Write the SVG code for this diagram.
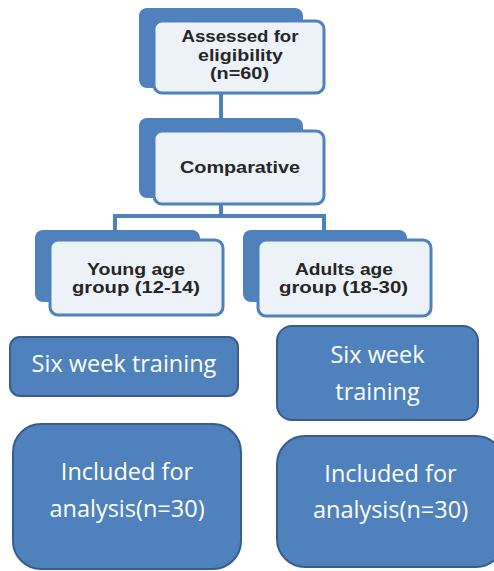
<svg xmlns="http://www.w3.org/2000/svg" width="494" height="571" viewBox="0 0 494 571">
<style>
.back{fill:#4f81bd;}
.front{fill:#edf2f8;stroke:#4f81bd;stroke-width:3;}
.dk{font-family:"Liberation Sans",Arial,sans-serif;font-size:16px;font-weight:bold;fill:#262626;text-anchor:middle;}
.blue{fill:#4f81bd;stroke:#385d8a;stroke-width:2;}
.wt{font-family:"Open Sans","Liberation Sans",sans-serif;font-size:23.5px;fill:#ffffff;text-anchor:middle;}
.conn{fill:none;stroke:#4f81bd;stroke-width:4;}
</style>
<rect width="494" height="571" fill="#ffffff"/>
<g id="connectors">
<path class="conn" d="M221 93 V119 M221 204 V216 M115 216 H324 M115 214 V231 M324 214 V231"/>
</g>
<g id="node-assessed">
<rect class="back" x="139" y="8" width="164" height="80" rx="8"/>
<rect class="front" x="154" y="21" width="170" height="72" rx="8"/>
<text class="dk" x="240" y="42" textLength="117" lengthAdjust="spacingAndGlyphs">Assessed for</text>
<text class="dk" x="240.5" y="60.5" textLength="85" lengthAdjust="spacingAndGlyphs">eligibility</text>
<text class="dk" x="239.5" y="79" textLength="59" lengthAdjust="spacingAndGlyphs">(n=60)</text>
</g>
<g id="node-comparative">
<rect class="back" x="139" y="118" width="164" height="80" rx="8"/>
<rect class="front" x="154" y="131" width="170" height="73" rx="8"/>
<text class="dk" x="240" y="173" textLength="120" lengthAdjust="spacingAndGlyphs">Comparative</text>
</g>
<g id="node-young">
<rect class="back" x="35" y="230" width="165" height="72" rx="8"/>
<rect class="front" x="50" y="240" width="173" height="75" rx="8"/>
<text class="dk" x="136" y="274.5" textLength="98" lengthAdjust="spacingAndGlyphs">Young age</text>
<text class="dk" x="136" y="293" textLength="128" lengthAdjust="spacingAndGlyphs">group (12-14)</text>
</g>
<g id="node-adults">
<rect class="back" x="243" y="230" width="164" height="72" rx="8"/>
<rect class="front" x="258" y="240" width="173" height="76" rx="8"/>
<text class="dk" x="344" y="274.5" textLength="98" lengthAdjust="spacingAndGlyphs">Adults age</text>
<text class="dk" x="343.5" y="293" textLength="129" lengthAdjust="spacingAndGlyphs">group (18-30)</text>
</g>
<g id="node-training-left">
<rect class="blue" x="10" y="337" width="228" height="59" rx="10"/>
<text class="wt" x="124" y="372">Six week training</text>
</g>
<g id="node-training-right">
<rect class="blue" x="277" y="326" width="201" height="94" rx="15"/>
<text class="wt" x="377.5" y="363">Six week</text>
<text class="wt" x="377.5" y="400">training</text>
</g>
<g id="node-included-left">
<rect class="blue" x="13" y="424" width="228" height="145" rx="28"/>
<text class="wt" x="127" y="480">Included for</text>
<text class="wt" x="127" y="517">analysis(n=30)</text>
</g>
<g id="node-included-right">
<rect class="blue" x="277" y="436" width="227" height="131" rx="28"/>
<text class="wt" x="390.5" y="482">Included for</text>
<text class="wt" x="390.5" y="518">analysis(n=30)</text>
</g>
</svg>
